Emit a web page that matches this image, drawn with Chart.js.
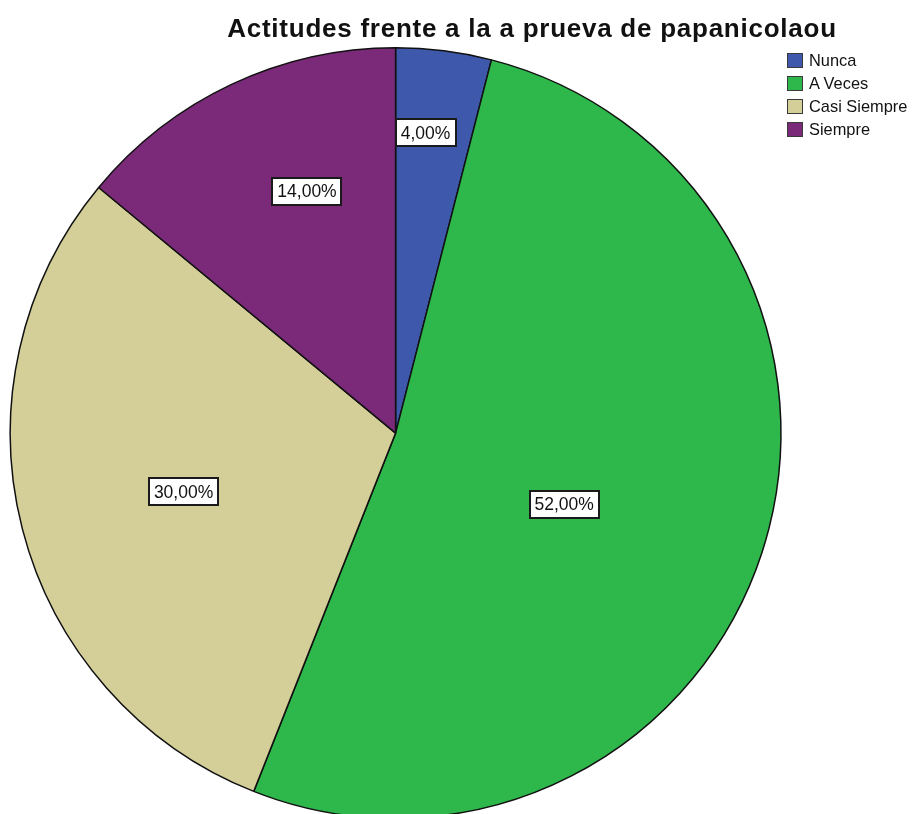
<!DOCTYPE html>
<html>
<head>
<meta charset="utf-8">
<script src="https://cdn.jsdelivr.net/npm/chart.js@4/dist/chart.umd.min.js"></script>
<style>
  html, body { margin: 0; padding: 0; width: 917px; height: 814px; overflow: hidden; background: #fff; }
  #wrap { position: absolute; left: 0; top: 0; width: 917px; height: 830px; }
  #title { position: absolute; left: 150px; width: 764px; top: 13px; line-height: 26px; text-align: center;
           font: bold 26px "Liberation Sans", Arial, sans-serif; letter-spacing: 0.75px; color: #111; white-space: nowrap; }
  #legend { position: absolute; left: 787px; top: 49px; font: 16.4px "Liberation Sans", Arial, sans-serif; color: #111; }
  .li { display: flex; align-items: center; height: 23px; white-space: nowrap; }
  .sw { width: 14px; height: 13px; border: 1px solid #3a3a3a; margin-right: 6px; box-sizing: content-box; }
</style>
</head>
<body>
<div id="wrap"><canvas id="c" width="917" height="830"></canvas></div>
<div id="title"></div>
<div id="legend"></div>
<script>
const titleText = "Actitudes frente a la a prueva de papanicolaou";
const categories = ["Nunca", "A Veces", "Casi Siempre", "Siempre"];
const percentValues = [4, 52, 30, 14];
const sliceColors = ["#3e59ab", "#2eb84b", "#d4ce98", "#7b2979"];
// label placement relative to each slice (fraction of radius, angular shift in degrees)
const labelRadiusFrac = [0.783, 0.475, 0.571, 0.669];
const labelAngleShift = [-1.5, 4.9, -1.1, 5.1];

document.getElementById('title').textContent = titleText;
const leg = document.getElementById('legend');
categories.forEach((c, i) => {
  const row = document.createElement('div'); row.className = 'li';
  const sw = document.createElement('div'); sw.className = 'sw'; sw.style.background = sliceColors[i];
  const t = document.createElement('span'); t.textContent = c;
  row.appendChild(sw); row.appendChild(t); leg.appendChild(row);
});

function fmt(v) { return v.toFixed(2).replace('.', ',') + '%'; }

const labelPlugin = {
  id: 'boxLabels',
  afterDatasetsDraw(chart) {
    const ctx = chart.ctx;
    const meta = chart.getDatasetMeta(0);
    ctx.save();
    ctx.font = '17.5px "Liberation Sans", Arial, sans-serif';
    ctx.textAlign = 'center';
    ctx.textBaseline = 'middle';
    meta.data.forEach((arc, i) => {
      const p = arc.getProps(['x', 'y', 'startAngle', 'endAngle', 'outerRadius'], true);
      const a = (p.startAngle + p.endAngle) / 2 + labelAngleShift[i] * Math.PI / 180;
      const r = p.outerRadius * labelRadiusFrac[i];
      const x = p.x + r * Math.cos(a), y = p.y + r * Math.sin(a);
      const txt = fmt(chart.data.datasets[0].data[i]);
      const w = ctx.measureText(txt).width + 10, h = 27;
      ctx.fillStyle = '#ffffff';
      ctx.fillRect(x - w / 2, y - h / 2, w, h);
      ctx.lineWidth = 2;
      ctx.strokeStyle = '#1a1a1a';
      ctx.strokeRect(Math.round(x - w / 2), Math.round(y - h / 2), Math.round(w), h);
      ctx.fillStyle = '#111';
      ctx.fillText(txt, x, y + 1);
    });
    ctx.restore();
  }
};

new Chart(document.getElementById('c'), {
  type: 'pie',
  data: {
    labels: categories,
    datasets: [{
      data: percentValues,
      backgroundColor: sliceColors,
      borderColor: '#111',
      borderWidth: 1.5
    }]
  },
  options: {
    responsive: false,
    animation: false,
    layout: { padding: { left: 9.5, right: 135.3, top: 47, bottom: 10.8 } },
    plugins: { legend: { display: false }, tooltip: { enabled: false }, title: { display: false } }
  },
  plugins: [labelPlugin]
});
</script>
</body>
</html>
